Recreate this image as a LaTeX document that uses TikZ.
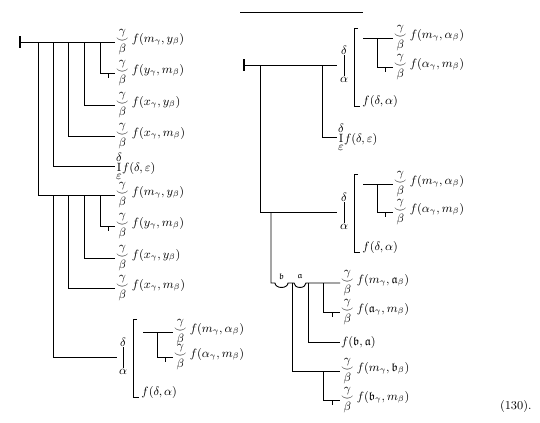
\documentclass[tikz,border=0pt]{standalone}
\usepackage{amsmath}
\usepackage{amsfonts}
\usepackage{amssymb}
\usepackage{xcolor}
\usepackage{tikz}
\usetikzlibrary{positioning,calc}

\newcommand{\seqgb}{\underset{\textstyle\beta}{\overset{\textstyle\gamma}{\smile}}}
\newcommand{\seqde}{\underset{\textstyle\varepsilon}{\overset{\textstyle\delta}{\mathrm{I}}}}

\begin{document}
\begin{tikzpicture}[x=0.75pt, y=-0.75pt, line width=0.7pt,
    font=\fontsize{9}{11}\selectfont]
				\useasboundingbox (0,0) rectangle (540,422);
				\tikzset{lbl/.style={anchor=west, inner sep=0.5pt},
					lblb/.style={anchor=south west, inner sep=0pt},
					col/.style={inner sep=0.5pt},
					judge/.style={line width=2.2pt},
					gothic/.style={inner sep=0pt, font=\fontsize{6.5}{7}\selectfont}}
				
				% ---- cây bên trái: tọa độ ----
				\coordinate (LJ) at (20,42);
				\coordinate (a1) at (38,42);
				\coordinate (a2) at (53,42);
				\coordinate (a3) at (68,42);
				\coordinate (a4) at (84,42);
				\coordinate (a5) at (100,42);
				\coordinate (L1) at (115,42);
				\coordinate (L2) at (115,73);
				\coordinate (L3) at (115,105);
				\coordinate (L4) at (115,136);
				\coordinate (L5) at (115,166);
				\coordinate (L6) at (115,195);
				\coordinate (b2) at (53,195);
				\coordinate (b3) at (68,195);
				\coordinate (b4) at (84,195);
				\coordinate (b5) at (100,195);
				\coordinate (L7) at (115,226);
				\coordinate (L8) at (115,258);
				\coordinate (L9) at (115,288);
				\coordinate (L10) at (117,357);
				
				% ---- cây bên trái: nét ----
				\draw[judge] ($(LJ)+(0,-6)$) -- ($(LJ)+(0,6)$);
				\draw (LJ) -- (L1);
				\draw (a5) |- (L2);
				\draw (a4) |- (L3);
				\draw (a3) |- (L4);
				\draw (a2) |- (L5);
				\draw (a1) |- (L6);
				\draw ($(L2)+(-7,0)$) -- ++(0,5);
				\draw (b5) |- (L7);
				\draw (b4) |- (L8);
				\draw (b3) |- (L9);
				\draw (b2) |- (L10);
				\draw ($(L7)+(-7,0)$) -- ++(0,5);
				
				\node[lbl] (t1) at (L1) {$\seqgb f(m_\gamma, y_\beta)$};
				\node[lbl] (t2) at (L2) {$\seqgb f(y_\gamma, m_\beta)$};
				\node[lbl] (t3) at (L3) {$\seqgb f(x_\gamma, y_\beta)$};
				\node[lbl] (t4) at (L4) {$\seqgb f(x_\gamma, m_\beta)$};
				\node[lbl] (t5) at (L5) {$\seqde f(\delta, \varepsilon)$};
				\node[lbl] (t6) at (L6) {$\seqgb f(m_\gamma, y_\beta)$};
				\node[lbl] (t7) at (L7) {$\seqgb f(y_\gamma, m_\beta)$};
				\node[lbl] (t8) at (L8) {$\seqgb f(x_\gamma, y_\beta)$};
				\node[lbl] (t9) at (L9) {$\seqgb f(x_\gamma, m_\beta)$};
				
				% ---- δ|α [ ... ] bên trái ----
				\node[col] (ld) at (123,342) {$\delta$};
				\node[col] (la) at (123,372) {$\alpha$};
				\draw (ld.south) -- (la.north);
				\coordinate (lk1) at (137,319);
				\coordinate (lk2) at (133,397);
				\coordinate (lk3) at (139,397);
				\draw (lk1) -| (lk2) -- (lk3);
				\coordinate (li1) at (143,332);
				\coordinate (li2) at (157,332);
				\coordinate (LA) at (173,332);
				\coordinate (LB) at (173,357);
				\draw (li1) -- (LA);
				\draw (li2) |- (LB);
				\draw ($(LB)+(-8,0)$) -- ++(0,5);
				\node[lbl] (t10) at (LA) {$\seqgb f(m_\gamma, \alpha_\beta)$};
				\node[lbl] (t11) at (LB) {$\seqgb f(\alpha_\gamma, m_\beta)$};
				\node[lblb] (t12) at (141,399) {$f(\delta, \alpha)$};
				
				% ---- cây bên phải: tọa độ ----
				\coordinate (top1) at (240,12);
				\coordinate (top2) at (363,12);
				\coordinate (RJ) at (244,65);
				\coordinate (c1) at (260,65);
				\coordinate (c2) at (322,65);
				\coordinate (R1) at (337,65);
				\coordinate (R2) at (337,137);
				\coordinate (R3) at (337,212);
				\coordinate (c3) at (271,212);
				\coordinate (c4) at (271,283);
				\coordinate (R4) at (340,283);
				\coordinate (d1) at (323,283);
				\coordinate (d2) at (308,283);
				\coordinate (d3) at (292,283);
				\coordinate (R5) at (340,312);
				\coordinate (R6) at (340,342);
				\coordinate (R7) at (340,371);
				\coordinate (d4) at (323,371);
				\coordinate (R8) at (340,400);
				
				% ---- cây bên phải: nét ----
				\draw (top1) -- (top2);
				\draw[judge] ($(RJ)+(0,-6)$) -- ($(RJ)+(0,6)$);
				\draw (RJ) -- (R1);
				\draw (c2) |- (R2);
				\draw (c1) |- (R3);
				\node[lbl] (s2) at (R2) {$\seqde f(\delta, \varepsilon)$};
				
				% δ|α [ ... ] trên
				\node[col] (rd1) at (344,50) {$\delta$};
				\node[col] (ra1) at (344,80) {$\alpha$};
				\draw (rd1.south) -- (ra1.north);
				\draw (358,28) -| (354,106) -- (360,106);
				\coordinate (RA1) at (393,38);
				\coordinate (RB1) at (393,67);
				\draw (363,38) -- (RA1);
				\draw (377,38) |- (RB1);
				\draw ($(RB1)+(-8,0)$) -- ++(0,5);
				\node[lbl] (s1a) at (RA1) {$\seqgb f(m_\gamma, \alpha_\beta)$};
				\node[lbl] (s1b) at (RB1) {$\seqgb f(\alpha_\gamma, m_\beta)$};
				\node[lblb] (s1c) at (362,108) {$f(\delta, \alpha)$};
				
				% δ|α [ ... ] dưới
				\node[col] (rd2) at (344,197) {$\delta$};
				\node[col] (ra2) at (344,227) {$\alpha$};
				\draw (rd2.south) -- (ra2.north);
				\draw (358,174) -| (354,252) -- (360,252);
				\coordinate (RA2) at (393,184);
				\coordinate (RB2) at (393,212);
				\draw (363,184) -- (RA2);
				\draw (377,184) |- (RB2);
				\draw ($(RB2)+(-8,0)$) -- ++(0,5);
				\node[lbl] (s3a) at (RA2) {$\seqgb f(m_\gamma, \alpha_\beta)$};
				\node[lbl] (s3b) at (RB2) {$\seqgb f(\alpha_\gamma, m_\beta)$};
				\node[lblb] (s3c) at (362,254) {$f(\delta, \alpha)$};
				
				% ---- hai lõm b, a ----
				\draw (c3) -- (c4) -- (275,283)
				arc[start angle=180, end angle=0, x radius=6.5, y radius=4.5]
				-- (294,283)
				arc[start angle=180, end angle=0, x radius=6, y radius=4.5]
				-- (R4);
				\node[gothic] (gb) at (281.5,276) {$\mathfrak{b}$};
				\node[gothic] (ga) at (300,276) {$\mathfrak{a}$};
				\draw (d1) |- (R5);
				\draw (d2) |- (R6);
				\draw (d3) |- (R7);
				\draw (d4) |- (R8);
				\draw ($(R5)+(-8,0)$) -- ++(0,5);
				\draw ($(R8)+(-8,0)$) -- ++(0,5);
				\node[lbl] (s4) at (R4) {$\seqgb f(m_\gamma, \mathfrak{a}_\beta)$};
				\node[lbl] (s5) at (R5) {$\seqgb f(\mathfrak{a}_\gamma, m_\beta)$};
				\node[lbl] (s6) at (R6) {$f(\mathfrak{b}, \mathfrak{a})$};
				\node[lbl] (s7) at (R7) {$\seqgb f(m_\gamma, \mathfrak{b}_\beta)$};
				\node[lbl] (s8) at (R8) {$\seqgb f(\mathfrak{b}_\gamma, m_\beta)$};
				
				\node[anchor=east, inner sep=0pt] (num) at (532,406) {(130).};
\end{tikzpicture}
\end{document}
